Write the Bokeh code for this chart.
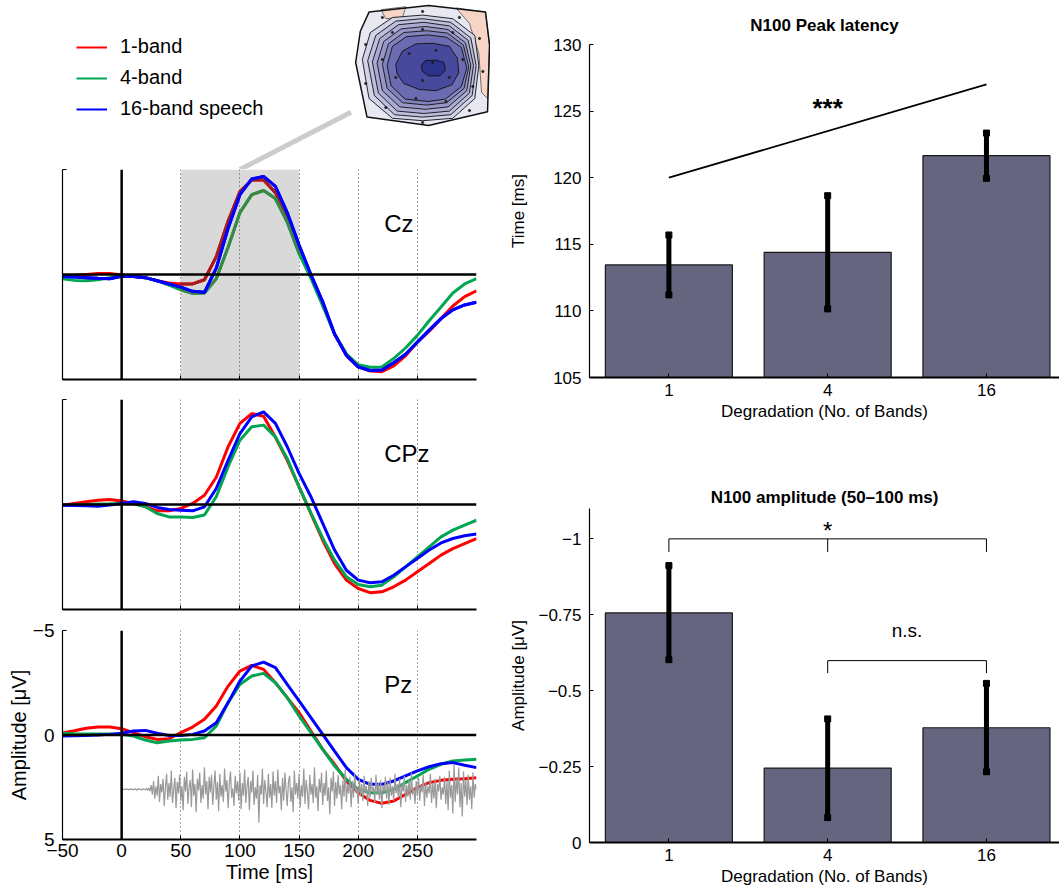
from bokeh.plotting import figure
from bokeh.layouts import row, column
from bokeh.models import Range1d, FixedTicker, Span, BoxAnnotation, Label, Legend, LegendItem
from bokeh.embed import file_html
from bokeh.resources import INLINE

FONT = "Liberation Sans"
RED, GREEN, BLUE = "#ff0000", "#00a651", "#0000ff"
DARK_RED, DARK_GREEN = "#a51c1c", "#3c8744"
BAR_COLOR = "#656580"
NAN = float("nan")

# ---------------- data ----------------
condition_labels = ["1-band", "4-band", "16-band speech"]
time_ms = [-50, -40, -30, -20, -10, 0, 10, 20, 30, 40, 50, 60, 70, 80, 90, 100, 110, 120,
           130, 140, 150, 160, 170, 180, 190, 200, 210, 220, 230, 240, 250, 260, 270, 280, 290, 300]

cz_1band = [0.10, 0.05, 0.00, -0.05, -0.05, 0.02, 0.10, 0.15, 0.30, 0.40, 0.45, 0.45, 0.25, -0.85, -2.55, -3.95,
            -4.50, -4.50, -3.90, -2.70, -1.20, 0.05, 1.40, 2.83, 3.85, 4.40, 4.60, 4.63, 4.35, 3.87, 3.22, 2.70,
            2.10, 1.50, 1.05, 0.78]
cz_4band = [0.20, 0.28, 0.30, 0.25, 0.15, 0.05, 0.10, 0.15, 0.30, 0.50, 0.73, 0.90, 0.88, 0.20, -1.30, -2.95,
            -3.80, -4.00, -3.62, -2.50, -1.00, 0.18, 1.50, 2.83, 3.78, 4.30, 4.42, 4.40, 4.00, 3.50, 2.90, 2.20,
            1.55, 0.88, 0.45, 0.20]
cz_16band = [0.10, 0.12, 0.15, 0.18, 0.20, 0.08, 0.10, 0.15, 0.30, 0.45, 0.60, 0.80, 0.85, -0.30, -2.20, -3.80,
             -4.55, -4.67, -4.20, -2.95, -1.40, 0.00, 1.30, 2.83, 3.85, 4.40, 4.57, 4.55, 4.20, 3.80, 3.22, 2.65,
             2.10, 1.68, 1.45, 1.32]

cpz_1band = [0.03, -0.05, -0.13, -0.20, -0.24, -0.17, -0.05, 0.10, 0.30, 0.30, 0.19, -0.05, -0.44, -1.30, -2.75,
             -3.86, -4.33, -4.20, -3.20, -2.10, -0.84, 0.43, 1.70, 2.81, 3.60, 4.00, 4.20, 4.16, 3.92, 3.60, 3.20,
             2.81, 2.41, 2.10, 1.86, 1.62]
cpz_4band = [0.03, 0.02, 0.00, -0.02, -0.03, -0.05, -0.05, 0.11, 0.43, 0.59, 0.59, 0.62, 0.50, -0.37, -1.80,
             -3.06, -3.70, -3.78, -3.22, -2.19, -0.84, 0.40, 1.60, 2.65, 3.44, 3.81, 3.92, 3.84, 3.44, 2.97, 2.49,
             2.02, 1.54, 1.22, 0.98, 0.75]
cpz_16band = [0.03, 0.05, 0.06, 0.08, 0.03, -0.05, -0.13, -0.05, 0.14, 0.24, 0.27, 0.30, 0.11, -0.76, -2.10,
              -3.38, -4.17, -4.41, -3.86, -2.75, -1.48, -0.37, 0.90, 2.17, 3.13, 3.60, 3.73, 3.68, 3.37, 2.97,
              2.57, 2.17, 1.83, 1.62, 1.49, 1.41]

pz_1band = [-0.10, -0.20, -0.32, -0.38, -0.38, -0.30, -0.11, 0.08, 0.21, 0.18, -0.11, -0.38, -0.75, -1.39, -2.34,
            -3.06, -3.33, -3.14, -2.50, -1.79, -1.07, -0.19, 0.69, 1.40, 2.20, 2.76, 3.13, 3.27, 3.16, 2.84, 2.52,
            2.28, 2.17, 2.12, 2.09, 2.04]
pz_4band = [-0.08, -0.06, -0.05, -0.05, -0.05, -0.03, 0.05, 0.24, 0.37, 0.29, 0.24, 0.21, 0.13, -0.43, -1.55,
            -2.42, -2.82, -2.95, -2.50, -1.79, -0.91, -0.11, 0.69, 1.48, 2.12, 2.60, 2.76, 2.76, 2.60, 2.28, 1.96,
            1.64, 1.40, 1.24, 1.20, 1.16]
pz_16band = [0.05, 0.04, 0.02, 0.00, -0.03, -0.08, -0.19, -0.22, -0.08, 0.02, 0.02, -0.03, -0.19, -0.59, -1.55,
             -2.58, -3.30, -3.49, -3.22, -2.42, -1.63, -0.83, -0.03, 0.77, 1.56, 2.12, 2.36, 2.36, 2.20, 1.96,
             1.72, 1.52, 1.37, 1.32, 1.45, 1.56]

# stimulus waveform (drawn in the Pz panel, 0-300 ms, every 1 ms)
wave_ms = list(range(0, 301))
wave_amp = [
    2.60, 2.61, 2.59, 2.62, 2.58, 2.60, 2.63, 2.57, 2.61, 2.59, 2.62, 2.58, 2.60, 2.64, 2.56, 2.61, 2.59, 2.63, 2.57, 2.60, 2.62, 2.55, 2.66, 2.53, 2.68,
    2.40, 2.85, 2.20, 3.05, 2.45, 2.90, 1.95, 3.20, 2.35, 2.75, 2.10, 3.40, 2.55, 1.85, 3.10, 2.30, 2.95, 1.70, 3.25, 2.60, 2.05, 3.50, 2.25, 2.80, 1.90,
    3.15, 2.45, 3.60, 2.00, 2.70, 1.75, 3.30, 2.50, 2.15, 3.45, 1.65, 2.90, 2.35, 3.70, 2.10, 2.65, 1.80, 3.25, 2.40, 3.05, 1.55, 2.85, 2.20, 3.55, 2.00,
    2.75, 1.90, 3.35, 2.45, 1.70, 3.10, 2.25, 3.65, 1.85, 2.95, 2.40, 3.20, 1.60, 2.70, 2.15, 3.50, 2.35, 1.75, 3.00, 2.55, 3.40, 1.95, 2.80, 2.20, 3.15,
    1.80, 3.55, 2.30, 2.90, 1.65, 3.25, 2.45, 2.00, 3.60, 2.20, 2.75, 1.70, 3.35, 2.50, 3.05, 1.90, 4.20, 2.40, 2.85, 1.60, 3.30, 2.15, 2.70, 3.45, 1.85,
    3.00, 2.35, 3.50, 1.75, 2.90, 2.20, 3.25, 1.65, 2.80, 2.45, 3.60, 2.05, 3.15, 1.80, 2.65, 3.40, 2.25, 1.95, 3.20, 2.50, 3.70, 1.70, 2.85, 2.30, 3.05,
    1.85, 3.45, 2.40, 2.95, 1.60, 3.30, 2.15, 2.70, 3.55, 1.90, 2.85, 2.35, 3.25, 1.55, 3.00, 2.45, 3.65, 2.10, 2.75, 1.80, 3.35, 2.30, 2.90, 1.70, 3.15,
    2.50, 3.80, 2.05, 2.70, 1.75, 3.40, 2.25, 3.05, 1.90, 2.85, 2.40, 3.55, 2.15, 2.95, 1.65, 3.20, 2.35, 2.80, 2.00, 3.45, 2.20, 3.00, 1.85, 2.75, 2.50,
    3.30, 2.10, 2.90, 2.35, 3.15, 1.95, 2.80, 2.45, 3.40, 2.20, 3.00, 2.05, 2.70, 2.50, 3.25, 1.90, 2.85, 2.30, 3.10, 2.15, 3.50, 2.40, 2.75, 2.00, 3.05,
    2.25, 3.35, 2.05, 2.90, 2.45, 3.15, 1.85, 2.80, 2.35, 3.00, 2.10, 3.45, 2.30, 2.70, 1.95, 3.20, 2.40, 2.95, 2.15, 3.10, 1.80, 2.85, 2.50, 3.30, 2.20,
    2.90, 2.05, 3.15, 2.40, 2.75, 1.90, 3.40, 2.25, 3.00, 2.45, 2.80, 1.85, 3.25, 2.30, 3.05, 2.10, 3.50, 2.35, 2.70, 1.95, 3.10, 2.50, 2.85, 2.00, 3.30,
    2.20, 3.60, 1.70, 3.00, 2.40, 3.75, 1.40, 3.20, 2.10, 2.85, 1.55, 3.45, 2.30, 3.90, 1.75, 2.95, 2.15, 3.35, 1.90, 3.10, 2.45, 3.55, 1.80, 3.00, 2.35,
    2.60]

analysis_window_ms = [50, 150]
x_ticks = [-50, 0, 50, 100, 150, 200, 250]
grid_ticks = [50, 100, 150, 200, 250]
y_ticks = [-5, 0, 5]

# bar charts
bands = ["1", "4", "16"]
latency_mean = [113.45, 114.40, 121.65]
latency_hi = [115.70, 118.65, 123.35]
latency_lo = [111.20, 110.15, 119.95]
latency_trend_x = [1, 3]
latency_trend_y = [120.0, 127.0]
latency_ticks = [105, 110, 115, 120, 125, 130]

amp_mean = [-0.756, -0.245, -0.378]
amp_hi = [-0.912, -0.407, -0.524]
amp_lo = [-0.602, -0.082, -0.233]
amp_ticks = [0, -0.25, -0.5, -0.75, -1]
amp_tick_labels = ["0", "\u22120.25", "\u22120.5", "\u22120.75", "\u22121"]
sig_all_x = [1, 1, 3, 3]
sig_all_y = [-0.957, -1.0, -1.0, -0.957]
sig_mid_x = [2, 2]
sig_mid_y = [-1.0, -0.957]
ns_x = [2, 2, 3, 3]
ns_y = [-0.558, -0.599, -0.599, -0.558]

# scalp topography (head coordinates, -1..1)
topo_outline_x = [-0.80, 0.09, 0.94, 1.00, 0.97, 0.09, -0.83, -1.00, -0.93]
topo_outline_y = [0.89, 1.00, 0.89, 0.34, -0.77, -1.00, -0.86, 0.05, 0.57]
topo_warm_x = [[0.50, 0.94, 1.00, 0.97, 0.88, 0.84, 0.70], [-0.62, -0.25, -0.30, -0.55]]
topo_warm_y = [[0.96, 0.89, 0.34, -0.55, -0.45, 0.20, 0.70], [0.93, 0.98, 0.80, 0.78]]
topo_rings = [
    [(-0.90, 0.10), (-0.78, 0.55), (-0.45, 0.80), (0.00, 0.84), (0.45, 0.78), (0.78, 0.50), (0.84, 0.00),
     (0.78, -0.55), (0.45, -0.88), (0.00, -0.92), (-0.45, -0.88), (-0.80, -0.55)],
    [(-0.82, 0.08), (-0.70, 0.50), (-0.40, 0.74), (0.00, 0.78), (0.42, 0.72), (0.72, 0.46), (0.80, 0.00),
     (0.74, -0.50), (0.42, -0.82), (0.00, -0.86), (-0.42, -0.82), (-0.72, -0.50)],
    [(-0.75, 0.06), (-0.64, 0.45), (-0.36, 0.68), (0.02, 0.72), (0.40, 0.66), (0.68, 0.42), (0.76, 0.00),
     (0.70, -0.46), (0.40, -0.76), (0.02, -0.80), (-0.38, -0.76), (-0.66, -0.46)],
    [(-0.68, 0.04), (-0.58, 0.40), (-0.32, 0.61), (0.04, 0.65), (0.38, 0.60), (0.64, 0.38), (0.72, 0.00),
     (0.66, -0.42), (0.38, -0.69), (0.04, -0.73), (-0.34, -0.69), (-0.60, -0.42)],
    [(-0.60, 0.02), (-0.51, 0.36), (-0.28, 0.55), (0.06, 0.58), (0.37, 0.54), (0.61, 0.34), (0.69, -0.02),
     (0.62, -0.38), (0.36, -0.62), (0.06, -0.66), (-0.30, -0.62), (-0.53, -0.38)],
    [(-0.53, 0.00), (-0.45, 0.32), (-0.24, 0.48), (0.08, 0.51), (0.36, 0.47), (0.58, 0.30), (0.66, -0.04),
     (0.58, -0.35), (0.34, -0.56), (0.08, -0.60), (-0.26, -0.56), (-0.47, -0.34)],
    [(-0.40, 0.02), (-0.30, 0.24), (-0.10, 0.36), (0.15, 0.37), (0.40, 0.32), (0.52, 0.12), (0.54, -0.12),
     (0.44, -0.32), (0.20, -0.42), (-0.05, -0.40), (-0.28, -0.30), (-0.38, -0.14)],
    [(-0.02, 0.00), (0.04, 0.08), (0.20, 0.09), (0.32, 0.05), (0.34, -0.08), (0.26, -0.17), (0.10, -0.175),
     (0.00, -0.10)],
]
topo_ring_colors = ["#d2d2e8", "#bebedd", "#aaaad3", "#9696c8", "#8282bd", "#6b6bb1", "#474a9c", "#2c318c"]
topo_electrodes = [(-0.6, 0.8), (0.0, 0.9), (0.55, 0.8), (0.85, 0.45), (-0.85, 0.35), (-0.45, 0.55), (0.0, 0.6),
                   (0.45, 0.55), (-0.6, 0.1), (-0.2, 0.2), (0.2, 0.25), (0.6, 0.1), (0.9, -0.1), (-0.85, -0.3),
                   (-0.4, -0.2), (0.0, -0.25), (0.4, -0.2), (0.75, -0.35), (-0.55, -0.7), (-0.1, -0.55),
                   (0.35, -0.6), (0.7, -0.75), (0.0, -0.95), (0.15, 0.05)]
topo_link_end = (-1.07, -0.78)


def style_axes(p, fs, lab_fs):
    for ax in p.axis:
        ax.major_tick_in = 4
        ax.major_tick_out = 0
        ax.minor_tick_line_color = None
        ax.axis_line_color = "black"
        ax.major_tick_line_color = "black"
        ax.major_label_text_font = FONT
        ax.major_label_text_font_size = fs
        ax.major_label_text_color = "black"
        ax.axis_label_text_font = FONT
        ax.axis_label_text_font_size = lab_fs
        ax.axis_label_text_font_style = "normal"
        ax.axis_label_text_color = "black"


def erp_panel(series, name, height, top, bottom, labels=False, shade=False, wave=False):
    p = figure(width=490, height=height, title=None, x_range=Range1d(-50, 300), y_range=Range1d(5, -5),
               output_backend="svg", toolbar_location=None, min_border_left=62, min_border_right=14,
               min_border_top=top, min_border_bottom=bottom)
    p.outline_line_color = None
    p.background_fill_color = "white"
    p.border_fill_color = "white"
    style_axes(p, "19px", "20px")
    p.xaxis.ticker = FixedTicker(ticks=x_ticks)
    p.yaxis.ticker = FixedTicker(ticks=y_ticks)
    p.xaxis.axis_line_width = 2
    p.yaxis.axis_line_width = 1.2
    p.xgrid.ticker = FixedTicker(ticks=grid_ticks)
    p.xgrid.grid_line_color = "#444444"
    p.xgrid.grid_line_dash = "1 3"
    p.xgrid.grid_line_width = 1
    p.ygrid.visible = False
    if labels:
        p.xaxis.major_label_overrides = {t: (str(t) if t >= 0 else "\u2212" + str(-t)) for t in x_ticks}
        p.yaxis.major_label_overrides = {t: (str(t) if t >= 0 else "\u2212" + str(-t)) for t in y_ticks}
        p.xaxis.major_label_standoff = 4
        p.yaxis.major_label_standoff = 8
        p.xaxis.axis_label = "Time [ms]"
        p.yaxis.axis_label = "Amplitude [\u03bcV]"
        p.xaxis.axis_label_standoff = 1
        p.yaxis.axis_label_standoff = 0
    else:
        p.xaxis.major_label_overrides = {t: "" for t in x_ticks}
        p.yaxis.major_label_overrides = {t: "" for t in y_ticks}
        p.xaxis.major_label_standoff = 0
        p.yaxis.major_label_standoff = 0
    if shade:
        p.add_layout(BoxAnnotation(left=analysis_window_ms[0], right=analysis_window_ms[1],
                                   fill_color="#d9d9d9", fill_alpha=1, line_color=None, level="image"))
    for vals, col in zip(series, [RED, GREEN, BLUE]):
        p.line(time_ms, vals, line_color=col, line_width=3)
        if shade and col != BLUE:
            idx = [i for i, t in enumerate(time_ms) if analysis_window_ms[0] <= t <= analysis_window_ms[1]]
            p.line([time_ms[i] for i in idx], [vals[i] for i in idx],
                   line_color=DARK_RED if col == RED else DARK_GREEN, line_width=3)
    if shade:
        p.line(time_ms, series[2], line_color=BLUE, line_width=3)
    if wave:
        p.line(wave_ms, wave_amp, line_color="#999999", line_width=1.2)
    p.add_layout(Span(location=0, dimension="width", line_color="black", line_width=2.5))
    p.add_layout(Span(location=0, dimension="height", line_color="black", line_width=2.5))
    p.add_layout(Label(x=222, y=-2.43, text=name, text_font=FONT, text_font_size="24px",
                       text_baseline="middle", text_align="left", text_color="black"))
    return p


# ---------------- header: legend + topography ----------------
topo_cx, topo_hw = 254.4, 56.6
hdr = figure(width=490, height=169, title=None, x_range=Range1d(-102.4, 311.8), y_range=Range1d(-1.733, 1.083),
             x_axis_type=None, y_axis_type=None, output_backend="svg", toolbar_location=None, min_border=0)
hdr.outline_line_color = None
hdr.grid.visible = False


def tx(vals):
    return [topo_cx + topo_hw * v for v in vals]


hdr.line([sum(analysis_window_ms) / 2, topo_cx + topo_hw * topo_link_end[0]], [-1.733, topo_link_end[1]],
         line_color="#cccccc", line_width=5)
hdr.patch(tx(topo_outline_x), topo_outline_y, fill_color="#e8e8f2", line_color=None)
hdr.patches([tx(w) for w in topo_warm_x], topo_warm_y, fill_color="#f6d5c6", line_color="#222222",
            line_width=0.6)
for ring, col in zip(topo_rings, topo_ring_colors):
    hdr.patch(tx([a for a, b in ring]), [b for a, b in ring], fill_color=col, line_color="#111111",
              line_width=0.9)
hdr.patch(tx(topo_outline_x), topo_outline_y, fill_color=None, line_color="#111111", line_width=1.5)
hdr.scatter(tx([a for a, b in topo_electrodes]), [b for a, b in topo_electrodes], size=2.2, color="#222222")

items = []
for lab, col in zip(condition_labels, [RED, GREEN, BLUE]):
    r = hdr.line(x=[NAN], y=[NAN], line_color=col, line_width=2)
    items.append(LegendItem(label=lab, renderers=[r]))
leg = Legend(items=items, location=(76, 49), glyph_width=31, glyph_height=20, label_standoff=13, spacing=8,
             padding=0, margin=0, background_fill_alpha=0, border_line_color=None,
             label_text_font=FONT, label_text_font_size="20px", label_text_color="black")
hdr.add_layout(leg)

cz = erp_panel([cz_1band, cz_4band, cz_16band], "Cz", 230, 0, 20, shade=True)
cpz = erp_panel([cpz_1band, cpz_4band, cpz_16band], "CPz", 219, 0, 9)
pz = erp_panel([pz_1band, pz_4band, pz_16band], "Pz", 276, 12, 55, labels=True, wave=True)


# ---------------- bar charts ----------------
def bar_panel(title, height, top, bottom, y_range, means, lo, hi, base, ticks, tick_labels, ylabel,
              ylab_standoff, title_standoff):
    pos = [i + 1 for i in range(len(bands))]
    p = figure(width=569, height=height, title=title, x_range=Range1d(0.5, 3.46), y_range=y_range,
               output_backend="svg", toolbar_location=None, min_border_left=99, min_border_right=0,
               min_border_top=top, min_border_bottom=bottom)
    p.outline_line_color = None
    p.grid.visible = False
    style_axes(p, "17px", "17px")
    p.title.text_font = FONT
    p.title.text_font_size = "17px"
    p.title.text_font_style = "bold"
    p.title.text_color = "black"
    p.title.align = "center"
    p.title.standoff = title_standoff
    p.xaxis.ticker = FixedTicker(ticks=pos)
    p.xaxis.major_label_overrides = {i: b for i, b in zip(pos, bands)}
    p.yaxis.ticker = FixedTicker(ticks=ticks)
    p.yaxis.major_label_overrides = {t: l for t, l in zip(ticks, tick_labels)}
    p.xaxis.axis_line_width = 2
    p.yaxis.axis_line_width = 1.2
    p.xaxis.major_label_standoff = 6
    p.yaxis.major_label_standoff = 8
    p.xaxis.axis_label = "Degradation (No. of Bands)"
    p.yaxis.axis_label = ylabel
    p.xaxis.axis_label_standoff = 3
    p.yaxis.axis_label_standoff = ylab_standoff
    p.vbar(x=pos, top=means, bottom=base, width=0.8, fill_color=BAR_COLOR, line_color="#1a1a1a", line_width=1.2)
    p.segment(x0=pos, y0=lo, x1=pos, y1=hi, line_color="black", line_width=5)
    p.scatter(x=pos + pos, y=lo + hi, marker="square", size=6, color="black")
    return p


lat = bar_panel("N100 Peak latency", 460, 44, 83, Range1d(105, 130), latency_mean, latency_lo, latency_hi,
                105, latency_ticks, [str(t) for t in latency_ticks], "Time [ms]", 22, 20)
lat.line(latency_trend_x, latency_trend_y, line_color="black", line_width=1.8)
lat.add_layout(Label(x=2, y=125.2, text="***", text_font=FONT, text_font_size="26px", text_font_style="bold",
                     text_align="center", text_baseline="middle", text_color="black"))

amp = bar_panel("N100 amplitude (50\u2013100 ms)", 434, 48, 52, Range1d(0, -1.1), amp_mean, amp_lo, amp_hi,
                0, amp_ticks, amp_tick_labels, "Amplitude [\u03bcV]", 7, 4)
amp.line(sig_all_x, sig_all_y, line_color="black", line_width=1)
amp.line(sig_mid_x, sig_mid_y, line_color="black", line_width=1)
amp.line(ns_x, ns_y, line_color="black", line_width=1)
amp.add_layout(Label(x=2, y=-1.027, text="*", text_font=FONT, text_font_size="24px", text_align="center",
                     text_baseline="middle", text_color="black"))
amp.add_layout(Label(x=2.5, y=-0.697, text="n.s.", text_font=FONT, text_font_size="19px", text_align="center",
                     text_baseline="middle", text_color="black"))

layout = row(column(row(hdr), cz, cpz, pz), column(lat, amp))
open("out.html", "w").write(file_html(layout, INLINE))
